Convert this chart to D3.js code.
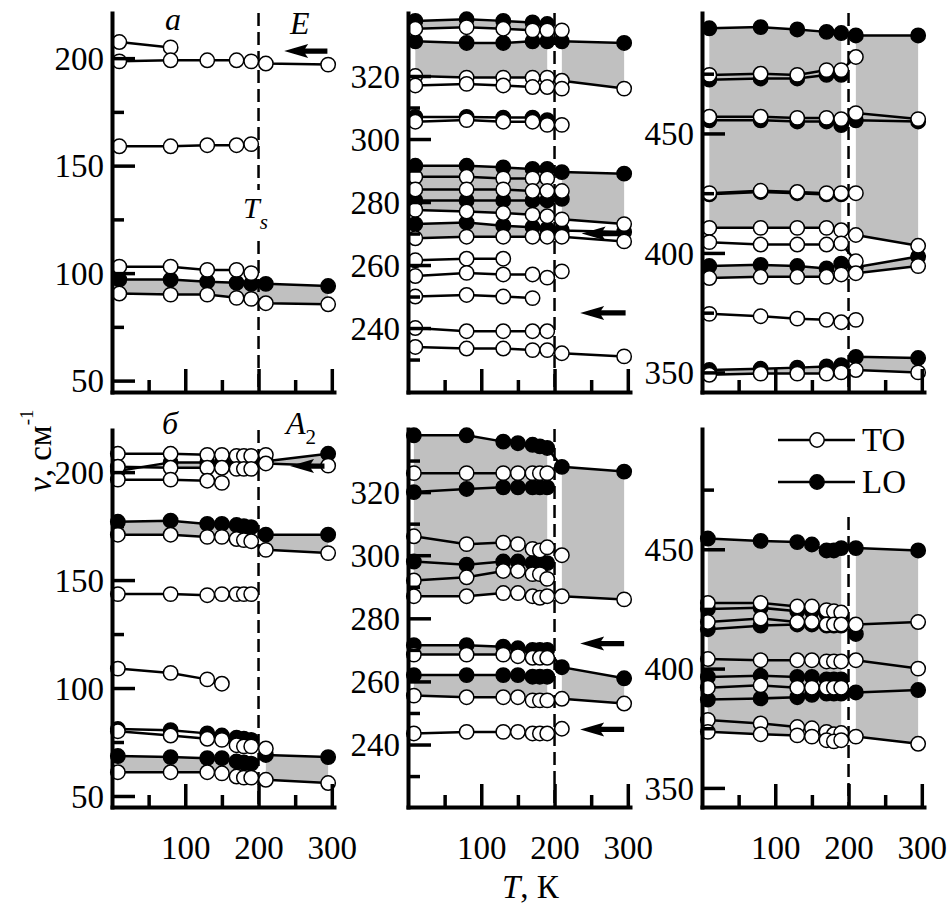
<!DOCTYPE html>
<html><head><meta charset="utf-8">
<script src="https://cdn.jsdelivr.net/npm/d3@7"></script>
<style>
body{margin:0;background:#fff}
svg{display:block}
text{font-family:"Liberation Serif","Times New Roman",serif;fill:#000}
</style>
</head><body>
<svg id="c" width="952" height="906"></svg>
<script>
// ---------- data ----------
const tA = [10, 80, 130, 170, 190, 210, 295];            // temperatures, top row
const tB = [8, 80, 130, 150, 170, 180, 190, 210, 295];   // temperatures, bottom row
const xTickMajor = [100, 200, 300];
const xTickMinor = [50, 150, 250];
const Ts = 200;

// panel а (E), low range
const a_TO1 = [207.5, 205];
const a_TO2 = [198.5, 199, 199, 199, 198.5, 197.5, 197];
const a_TO3 = [159, 159, 159.5, 159.5, 160];
const a_TO4 = [103, 103, 101.5, 101.5, 100];
const a_LO1 = [97, 97, 96, 95.5, 95, 95, 94];
const a_TO5 = [90.5, 90, 90, 88.5, 88, 86, 85.5];
// panel а (E), mid range
const b_LO1 = [337.5, 338, 337.5, 337, 336.5];
const b_TO1 = [335, 335.5, 335, 334.5, 334.5, 334.5];
const b_LO2 = [331, 330.5, 330.5, 331, 331, 331, 330.5];
const b_TO2 = [320, 319.5, 319.5, 319.5, 319.5, 318.5, 316];
const b_TO3 = [317, 317.5, 317, 316.5, 316.5, 316];
const b_LO3 = [307, 307, 306.8, 306.8, 306];
const b_TO4 = [305.5, 306, 305.5, 305.5, 304.5, 304.5];
const b_LO4 = [291.5, 291.5, 291, 290.5, 290.5, 289.5, 289];
const b_TO5 = [288, 288, 287.5, 287.5, 287.5];
const b_TO6 = [284, 284, 284, 283.5, 283.5, 283.5];
const b_LO5 = [280.5, 280.5, 280.5, 280.5, 280.5, 281];
const b_TO7 = [277.5, 277, 276.5, 276, 275.5, 274.5, 273];
const b_LO6 = [273, 273.5, 272.5, 272, 271.5, 271, 270.5];
const b_TO8 = [268.5, 269, 269, 269, 269, 269, 267.5];
const b_TO9 = [261.5, 262, 262];
const b_TO10 = [256.5, 257.5, 257, 257, 256, 258];
const b_TO11 = [250, 250.5, 250, 249.5];
const b_TO12 = [240, 239, 239, 239, 239];
const b_TO13 = [234, 233.5, 233.5, 233, 233, 232, 231];
// panel а (E), high range
const c_LO1 = [494, 494.5, 493.5, 492.5, 492, 491, 491];
const c_LO2 = [472.5, 473, 473, 474.5, 474.5];
const c_TO1 = [474.5, 475, 474.5, 476.5, 476.5, 482];
const c_LO3 = [455.5, 455.5, 455, 455, 453.5, 455.5, 455];
const c_TO2 = [457, 457, 456.5, 456.5, 456, 458.5, 456];
const c_LO4 = [424.5, 425.5, 425, 424.5, 424.5];
const c_TO3 = [425, 426, 425.5, 425, 425, 425];
const c_TO4 = [410.5, 410.5, 410.5, 410.5, 409.5, 407.5, 403];
const c_TO5 = [404.5, 403.5, 403.5, 403.5, 404, 396.5];
const c_LO5 = [394.5, 395, 394.5, 393.5, 395.5, 394, 398.5];
const c_TO6 = [389.5, 390, 390, 390, 391, 391.5, 394.5];
const c_TO7 = [374.5, 373.5, 372.5, 372, 371, 372];
const c_LO6 = [351, 351.5, 352, 352.5, 353, 356.5, 356];
const c_TO8 = [349, 349.5, 349.5, 349.5, 350, 351, 350];
// panel б (A2), low range
const d_TO1 = [208.5, 208.5, 208, 208, 207.5, 207.5, 207.5, 208];
const d_LO1 = [200.5, 204.5, 204.5, 204.5, 204.5, 204.5, 204.5, 205, 208.5];
const d_TO2 = [202.5, 202, 202, 202, 201.5, 201.5, 201.5, 204, 203];
const d_TO3 = [196.5, 196.5, 196, 195];
const d_LO2 = [177, 177.5, 176, 176, 175.5, 175, 174.5, 171, 171];
const d_TO4 = [171, 171, 170, 170, 169, 168.5, 168, 164, 162.5];
const d_TO5 = [143.5, 143.5, 143, 143.5, 143.5, 143.5, 143.5];
const d_TO6 = [109, 107, 104, 102];
const d_LO3 = [81, 80.5, 79, 78, 77, 76.5, 76];
const d_TO7 = [80, 78, 76.5, 76, 73.5, 73, 73, 72];
const d_LO4 = [68.5, 68, 67.5, 67.5, 66, 65.5, 65, 69, 68];
const d_TO8 = [61, 61, 61, 60.5, 59, 58.5, 58.5, 57.5, 56];
// panel б (A2), mid range
const e_LO1 = [338, 338, 336, 335.5, 335, 334.5, 334, 328, 326.5];
const e_TO1 = [326, 326, 326, 326, 326, 326, 326];
const e_LO2 = [320, 321, 321.5, 321.5, 321.5, 321.5, 321.5];
const e_TO2 = [306, 303.5, 304, 303.5, 302, 301.5, 302.5, 300];
const e_LO3 = [298, 297, 298, 298, 297.5, 297.5, 297.5];
const e_TO3 = [292, 293, 295, 295, 294, 294, 292.5];
const e_TO4 = [287, 287, 288, 288, 287, 286.5, 287, 287, 286];
const e_LO4 = [271.5, 271.5, 271, 270.5, 270, 270, 270, 264.5, 261];
const e_TO5 = [268.5, 268.5, 268.5, 268, 267.5, 267.5, 267.5];
const e_LO5 = [262, 262, 262, 262, 261.5, 261.5, 261.5];
const e_TO6 = [255.5, 255, 255, 255, 254, 254, 254, 254.5, 253];
const e_TO7 = [243.5, 244, 244, 244, 243.5, 243.5, 243.5, 245];
// panel б (A2), high range
const f_LO1 = [454.5, 453.5, 453, 452, 449.5, 449.5, 450.5, 450.5, 449.5];
const f_LO2 = [425, 425.5, 424, 424, 423, 423, 422.5];
const f_TO1 = [427.5, 427.5, 426, 426, 424.5, 424, 423.5];
const f_LO3 = [416.5, 418, 418.5, 418.5, 418, 418, 418, 414.5];
const f_TO2 = [419.5, 421, 419.5, 419.5, 418.5, 418.5, 418.5, 418.5, 419.5];
const f_TO3 = [404, 403.5, 403.5, 403.5, 403, 403, 403, 403.5, 400];
const f_LO4 = [396.5, 397, 396.5, 396.5, 395.5, 395.5, 395.5];
const f_TO4 = [392, 393, 392, 392, 392, 392, 392];
const f_LO5 = [387, 387.5, 388, 389, 389.5, 389.5, 389.5, 390, 391];
const f_TO5 = [378.5, 377, 375.5, 375, 373.5, 372.5, 373];
const f_TO6 = [373.5, 372.5, 372, 371.5, 370, 369.5, 370, 371.5, 368.5];

// series: [panel, kind, values]
const seriesList = [
  [0,'TO',a_TO1],[0,'TO',a_TO2],[0,'TO',a_TO3],[0,'TO',a_TO4],[0,'LO',a_LO1],[0,'TO',a_TO5],
  [1,'LO',b_LO1],[1,'TO',b_TO1],[1,'LO',b_LO2],[1,'TO',b_TO2],[1,'TO',b_TO3],[1,'LO',b_LO3],[1,'TO',b_TO4],
  [1,'LO',b_LO4],[1,'TO',b_TO5],[1,'TO',b_TO6],[1,'LO',b_LO5],[1,'TO',b_TO7],[1,'LO',b_LO6],[1,'TO',b_TO8],
  [1,'TO',b_TO9],[1,'TO',b_TO10],[1,'TO',b_TO11],[1,'TO',b_TO12],[1,'TO',b_TO13],
  [2,'LO',c_LO1],[2,'LO',c_LO2],[2,'TO',c_TO1],[2,'LO',c_LO3],[2,'TO',c_TO2],[2,'LO',c_LO4],[2,'TO',c_TO3],
  [2,'TO',c_TO4],[2,'TO',c_TO5],[2,'LO',c_LO5],[2,'TO',c_TO6],[2,'TO',c_TO7],[2,'LO',c_LO6],[2,'TO',c_TO8],
  [3,'TO',d_TO1],[3,'LO',d_LO1],[3,'TO',d_TO2],[3,'TO',d_TO3],[3,'LO',d_LO2],[3,'TO',d_TO4],[3,'TO',d_TO5],
  [3,'TO',d_TO6],[3,'LO',d_LO3],[3,'TO',d_TO7],[3,'LO',d_LO4],[3,'TO',d_TO8],
  [4,'LO',e_LO1],[4,'TO',e_TO1],[4,'LO',e_LO2],[4,'TO',e_TO2],[4,'LO',e_LO3],[4,'TO',e_TO3],[4,'TO',e_TO4],
  [4,'LO',e_LO4],[4,'TO',e_TO5],[4,'LO',e_LO5],[4,'TO',e_TO6],[4,'TO',e_TO7],
  [5,'LO',f_LO1],[5,'LO',f_LO2],[5,'TO',f_TO1],[5,'LO',f_LO3],[5,'TO',f_TO2],[5,'TO',f_TO3],[5,'LO',f_LO4],
  [5,'TO',f_TO4],[5,'LO',f_LO5],[5,'TO',f_TO5],[5,'TO',f_TO6]
];
// shaded LO–TO bands: [panel, upper, lower, segments]
const fills = [
  [0,a_LO1,a_TO5,'A'],
  [1,b_LO1,b_TO1,'L'],[1,b_LO2,b_TO2,'LR'],[1,b_LO4,b_TO7,'LR'],[1,b_LO6,b_TO8,'L'],
  [2,c_LO1,c_TO4,'LR'],[2,c_LO5,c_TO6,'LR'],[2,c_LO6,c_TO8,'LR'],
  [3,d_LO1,d_TO2,'LR'],[3,d_LO2,d_TO4,'LR'],[3,d_LO4,d_TO8,'LR'],
  [4,e_LO1,e_TO4,'LR'],[4,e_LO4,e_TO5,'L'],[4,e_LO5,e_TO6,'L'],[4,e_LO4,e_TO6,'R'],
  [5,f_LO1,f_TO6,'LR']
];
// arrows: [panel, tipT, tailT, value]
const arrows = [[0,235,294,203.3],[1,237,290,270],[1,235,297,244.8],[3,243,290,202.8],[4,235,295,272],[4,235,295,244.8]];

// ---------- layout ----------
const panels = [
  {x0:112, top:13,  bot:392, dom:[44.7,221],   major:[50,100,150,200],       minor:[75,125,175],          temps:tA, dashTop:13,  xl:false},
  {x0:408, top:13,  bot:392, dom:[219.7,340],  major:[240,260,280,300,320],  minor:[230,250,270,290,310,330], temps:tA, dashTop:13, xl:false},
  {x0:702, top:13,  bot:392, dom:[341.8,500.4],major:[350,400,450],          minor:[375,425,475],          temps:tA, dashTop:13,  xl:false},
  {x0:112, top:430, bot:807, dom:[44.9,219.5], major:[50,100,150,200],       minor:[75,125,175],          temps:tB, dashTop:430, xl:true},
  {x0:408, top:429, bot:807, dom:[220.2,340],  major:[240,260,280,300,320],  minor:[230,250,270,290,310,330], temps:tB, dashTop:429, xl:true},
  {x0:702, top:429, bot:807, dom:[342,500.4],  major:[350,400,450],          minor:[375,425,475],          temps:tB, dashTop:517, xl:true}
];
const FONT = '"Liberation Serif","Times New Roman",serif';
const FS = 33;
const svg = d3.select('#c');

panels.forEach(P => {
  P.x = d3.scaleLinear().domain([0, 303]).range([P.x0, P.x0 + 222]);
  P.y = d3.scaleLinear().domain(P.dom).range([P.bot, P.top]);
});

// fills
fills.forEach(([pi, up, lo, segs]) => {
  const P = panels[pi];
  const n = Math.min(up.length, lo.length);
  const pts = d3.range(n).map(i => ({t: P.temps[i], u: up[i], l: lo[i]}));
  const groups = segs === 'A' ? [pts] : segs.split('').map(s => pts.filter(d => s === 'L' ? d.t < Ts : d.t > Ts));
  const area = d3.area().x(d => P.x(d.t)).y0(d => P.y(d.l)).y1(d => P.y(d.u));
  groups.forEach(g => { if (g.length > 1) svg.append('path').attr('d', area(g)).attr('fill', '#c0c0c0'); });
});

// dashed Ts lines
panels.forEach(P => {
  svg.append('line').attr('x1', P.x(Ts)).attr('x2', P.x(Ts)).attr('y1', P.dashTop).attr('y2', P.bot)
    .attr('stroke', '#000').attr('stroke-width', 2.5).attr('stroke-dasharray', '13,6');
});

// series
const line = P => d3.line().x(d => P.x(d.t)).y(d => P.y(d.v));
seriesList.filter(s => s[1] === 'LO').concat(seriesList.filter(s => s[1] === 'TO')).forEach(([pi, kind, vals]) => {
  const P = panels[pi];
  const data = vals.map((v, i) => ({t: P.temps[i], v}));
  const g = svg.append('g');
  g.append('path').attr('d', line(P)(data)).attr('fill', 'none').attr('stroke', '#000').attr('stroke-width', 2.5);
  g.selectAll('circle').data(data).join('circle')
    .attr('cx', d => P.x(d.t)).attr('cy', d => P.y(d.v)).attr('r', 7.2)
    .attr('fill', kind === 'LO' ? '#000' : '#fff').attr('stroke', '#000').attr('stroke-width', 1.5);
});

// arrows
arrows.forEach(([pi, tip, tail, v]) => {
  const P = panels[pi];
  const xt = P.x(tip), xe = P.x(tail), yy = P.y(v);
  const hl = 24, hh = 7, sh = 2.6;
  svg.append('path').attr('d', `M${xt},${yy} L${xt+hl},${yy-hh} L${xt+hl-3},${yy-sh} L${xe},${yy-sh} L${xe},${yy+sh} L${xt+hl-3},${yy+sh} L${xt+hl},${yy+hh} Z`)
    .attr('fill', '#000');
});

// axes
panels.forEach(P => {
  const gy = svg.append('g').attr('transform', `translate(${P.x0},0)`)
    .call(d3.axisLeft(P.y).tickValues(P.major).tickSize(-23).tickSizeOuter(0).tickPadding(8).tickFormat(d3.format('d')))
    .attr('font-size', FS).attr('font-family', FONT);
  gy.select('.domain').attr('stroke-width', 4).attr('stroke-linecap', 'square');
  gy.selectAll('.tick line').attr('stroke-width', 3.5);
  gy.selectAll('.tick text').attr('dy', '0.34em');
  const gym = svg.append('g').attr('transform', `translate(${P.x0},0)`)
    .call(d3.axisLeft(P.y).tickValues(P.minor).tickSize(-12).tickSizeOuter(0).tickFormat(''));
  gym.select('.domain').remove();
  gym.selectAll('.tick line').attr('stroke-width', 3.5);

  const gx = svg.append('g').attr('transform', `translate(0,${P.bot})`)
    .call(d3.axisBottom(P.x).tickValues(xTickMajor).tickSize(-23).tickSizeOuter(0).tickPadding(29)
      .tickFormat(P.xl ? d3.format('d') : ''))
    .attr('font-size', FS).attr('font-family', FONT);
  gx.select('.domain').attr('stroke-width', 4).attr('stroke-linecap', 'square');
  gx.selectAll('.tick line').attr('stroke-width', 3.5);
  const gxm = svg.append('g').attr('transform', `translate(0,${P.bot})`)
    .call(d3.axisBottom(P.x).tickValues(xTickMinor).tickSize(-12).tickSizeOuter(0).tickFormat(''));
  gxm.select('.domain').remove();
  gxm.selectAll('.tick line').attr('stroke-width', 3.5);
});

// labels
const lab = (x, y, txt, o = {}) => svg.append('text').attr('x', x).attr('y', y).attr('font-size', o.fs || 32)
  .attr('font-style', o.it ? 'italic' : null).text(txt);
lab(165, 30, 'а', {it: true});
lab(290, 34, 'E', {it: true});
svg.append('rect').attr('x', 252).attr('y', 190).attr('width', 10).attr('height', 46).attr('fill', '#fff');
const ts = lab(243, 218, 'T', {it: true, fs: 30});
ts.append('tspan').attr('dy', 11).attr('dx', 0).attr('font-size', 21).text('s');
lab(162, 434, 'б', {it: true});
const a2 = lab(286, 434, 'A', {it: true});
a2.append('tspan').attr('dy', 10).attr('font-size', 21).attr('font-style', 'normal').text('2');

// y axis title
const yt = svg.append('text').attr('transform', 'translate(51,492) rotate(-90)').attr('font-size', FS);
yt.append('tspan').attr('font-style', 'italic').text('ν');
yt.append('tspan').text(', см');
yt.append('tspan').attr('dy', -18).attr('font-size', 19).text('-1');
// x axis title
const xt = svg.append('text').attr('x', 502).attr('y', 898).attr('font-size', FS);
xt.append('tspan').attr('font-style', 'italic').text('T');
xt.append('tspan').text(', К');

// legend
[['TO', 440, '#fff'], ['LO', 482, '#000']].forEach(([name, yy, fill]) => {
  svg.append('line').attr('x1', 778).attr('x2', 855).attr('y1', yy).attr('y2', yy).attr('stroke', '#000').attr('stroke-width', 2.5);
  svg.append('circle').attr('cx', 817).attr('cy', yy).attr('r', 7.2).attr('fill', fill).attr('stroke', '#000').attr('stroke-width', 1.5);
  svg.append('text').attr('x', 862).attr('y', yy).attr('dy', '0.34em').attr('font-size', FS).text(name);
});
</script>
</body></html>
